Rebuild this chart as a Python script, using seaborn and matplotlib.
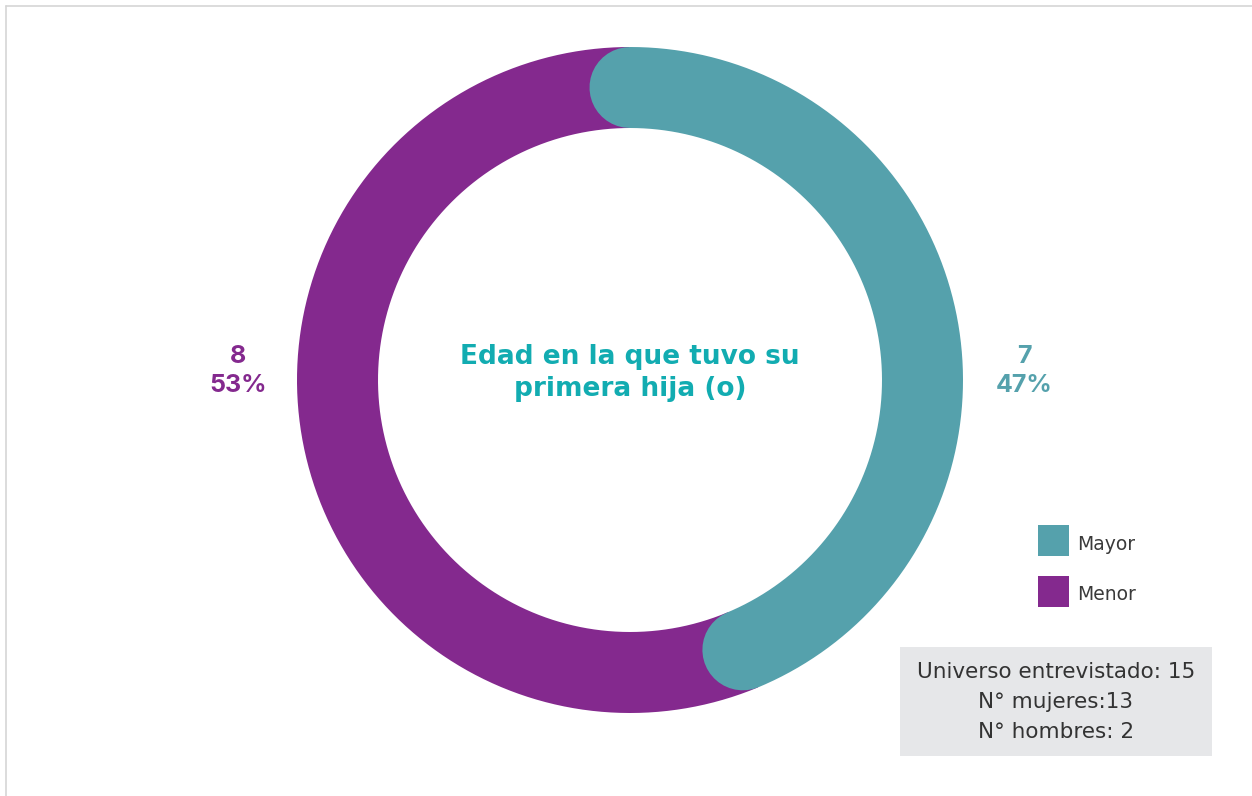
import numpy as np
import pandas as pd
import matplotlib.pyplot as plt
import seaborn as sns
from matplotlib.patches import Rectangle

# Datos
categorias = ["Mayor", "Menor"]
valores = [7, 8]
colores = ["#55A1AC", "#84298E"]
titulo = "Edad en la que tuvo su\nprimera hija (o)"
nota = ["Universo entrevistado: 15", "N° mujeres:13", "N° hombres: 2"]

sns.set_theme(style="white")
plt.rcParams['font.family'] = ['Inter', 'DejaVu Sans']

W, H, DPI = 1252, 796, 100
fig = plt.figure(figsize=(W / DPI, H / DPI), dpi=DPI)
ax = fig.add_axes([0, 0, 1, 1])

# geometria del anillo (en pixeles)
cx, cy = 630, 380
r_ext, r_int = 333, 252
r_mid = (r_ext + r_int) / 2
ancho_pt = (r_ext - r_int) * 72 / DPI
recorte = 10.7  # grados que se recortan por la tapa redondeada

total = sum(valores)
fin_mayor = 360 * valores[0] / total - recorte


def arco(a0, a1, n=500):
    t = np.radians(np.linspace(a0, a1, n))
    return pd.DataFrame({'x': cx + r_mid * np.sin(t), 'y': cy - r_mid * np.cos(t)})


# Menor (debajo)
df_menor = arco(fin_mayor, 360)
sns.lineplot(data=df_menor, x='x', y='y', sort=False, estimator=None, color=colores[1],
             linewidth=ancho_pt, solid_capstyle='butt', ax=ax)
# Mayor (encima, con tapas redondeadas)
df_mayor = arco(0, fin_mayor)
sns.lineplot(data=df_mayor, x='x', y='y', sort=False, estimator=None, color=colores[0],
             linewidth=ancho_pt, solid_capstyle='round', ax=ax)
ax.set_xlim(0, W)
ax.set_ylim(H, 0)
ax.axis('off')

# titulo central
ax.text(cx, 373, titulo, ha='center', va='center', fontsize=19, fontweight='bold',
        color='#12ACB1', linespacing=1.28, family=['DejaVu Sans'])

# etiquetas
pct = [round(100 * v / total) for v in valores]
ax.text(1024, 371, f"{valores[0]}\n{pct[0]}%", ha='center', va='center', fontsize=18,
        fontweight='bold', color=colores[0], linespacing=1.35)
ax.text(238, 371, f"{valores[1]}\n{pct[1]}%", ha='center', va='center', fontsize=18,
        fontweight='bold', color=colores[1], linespacing=1.35)

# leyenda manual
for i, (cat, col) in enumerate(zip(categorias, colores)):
    y0 = 525 + i * 51
    ax.add_patch(Rectangle((1038, y0), 31, 31, facecolor=col, edgecolor='none'))
    ax.text(1077, y0 + 19, cat, ha='left', va='center', fontsize=13.5, color='#3a3a3a',
            family=['DejaVu Sans'])

# recuadro de nota
ax.add_patch(Rectangle((900, 647), 312, 109, facecolor='#E6E7E9', edgecolor='none'))
for i, linea in enumerate(nota):
    ax.text(1056, 672 + i * 30, linea, ha='center', va='center', fontsize=15.5,
            color='#333333', family=['DejaVu Sans'])

# marco
ax.plot([6, W], [6, 6], color='#D5D5D5', linewidth=1.2)
ax.plot([6, 6], [6, H], color='#D5D5D5', linewidth=1.2)

fig.savefig('out.png', dpi=DPI, facecolor='white')
